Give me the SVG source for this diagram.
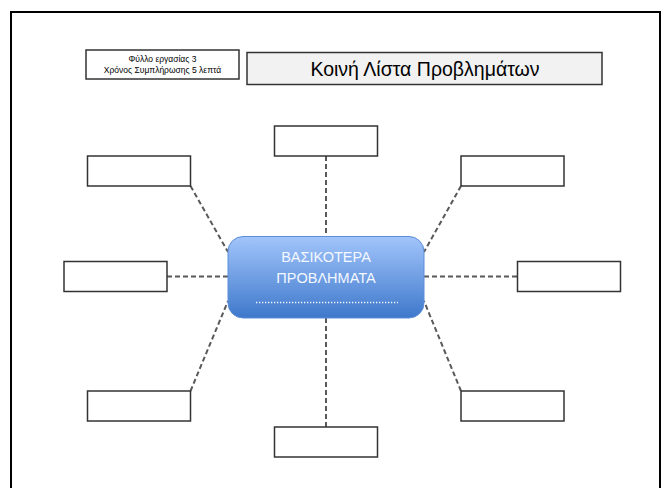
<svg xmlns="http://www.w3.org/2000/svg" width="667" height="488" viewBox="0 0 667 488">
<defs>
<linearGradient id="blue" x1="0" y1="0" x2="0" y2="1">
<stop offset="0" stop-color="#a2c5fb"/>
<stop offset="1" stop-color="#3e78cb"/>
</linearGradient>
<style>
.box{fill:#ffffff;stroke:#333333;stroke-width:1.5}
.conn{stroke:#595959;stroke-width:2;stroke-dasharray:5 3;fill:none}
.t{font-family:"Liberation Sans",Arial,sans-serif;fill:#000000}
.w{font-family:"Liberation Sans",Arial,sans-serif;fill:#f4f8ff}
</style>
</defs>
<rect x="0" y="0" width="667" height="488" fill="#ffffff"/>
<path d="M11 500 V12 H660 V500" fill="none" stroke="#000000" stroke-width="2"/>
<g id="info">
<rect x="86" y="50" width="153" height="29" class="box"/>
<text x="162.5" y="62" class="t" font-size="8.5" text-anchor="middle">Φύλλο εργασίας 3</text>
<text x="162.5" y="72.5" class="t" font-size="8.5" text-anchor="middle">Χρόνος Συμπλήρωσης 5 λεπτά</text>
</g>
<g id="title">
<rect x="247" y="52.5" width="355" height="32" fill="#f2f2f2" stroke="#333333" stroke-width="1.5"/>
<text x="425" y="75.5" class="t" font-size="19.5" text-anchor="middle">Κοινή Λίστα Προβλημάτων</text>
</g>
<g id="connectors">
<line x1="326" y1="156" x2="326" y2="236" class="conn"/>
<line x1="326" y1="318" x2="326" y2="427" class="conn"/>
<line x1="190.5" y1="186" x2="228" y2="252" class="conn"/>
<line x1="461" y1="186" x2="424" y2="252" class="conn"/>
<line x1="167" y1="276.5" x2="228" y2="276.5" class="conn"/>
<line x1="424" y1="276.5" x2="517" y2="276.5" class="conn"/>
<line x1="190.5" y1="391" x2="228" y2="301" class="conn"/>
<line x1="461" y1="391" x2="424" y2="301" class="conn"/>
</g>
<g id="center">
<rect x="228" y="236.5" width="196" height="81.5" rx="15" ry="15" fill="url(#blue)" stroke="#5b8dd9" stroke-width="1"/>
<text x="326" y="262" class="w" font-size="14.5" text-anchor="middle">ΒΑΣΙΚΟΤΕΡΑ</text>
<text x="326" y="283" class="w" font-size="14.5" text-anchor="middle">ΠΡΟΒΛΗΜΑΤΑ</text>
<line x1="256" y1="302.5" x2="398" y2="302.5" stroke="#f4f8ff" stroke-width="1.3" stroke-dasharray="1.3 1.7"/>
</g>
<g id="box-top"><rect x="274.5" y="126" width="103" height="30" class="box"/></g>
<g id="box-top-left"><rect x="87.5" y="156" width="103" height="30" class="box"/></g>
<g id="box-top-right"><rect x="461" y="156" width="103" height="30" class="box"/></g>
<g id="box-left"><rect x="64" y="261.5" width="103" height="30" class="box"/></g>
<g id="box-right"><rect x="517.5" y="261.5" width="103" height="30" class="box"/></g>
<g id="box-bottom-left"><rect x="87.5" y="391" width="103" height="30" class="box"/></g>
<g id="box-bottom-right"><rect x="461" y="391" width="103" height="30" class="box"/></g>
<g id="box-bottom"><rect x="274.5" y="427" width="103" height="30" class="box"/></g>
</svg>
